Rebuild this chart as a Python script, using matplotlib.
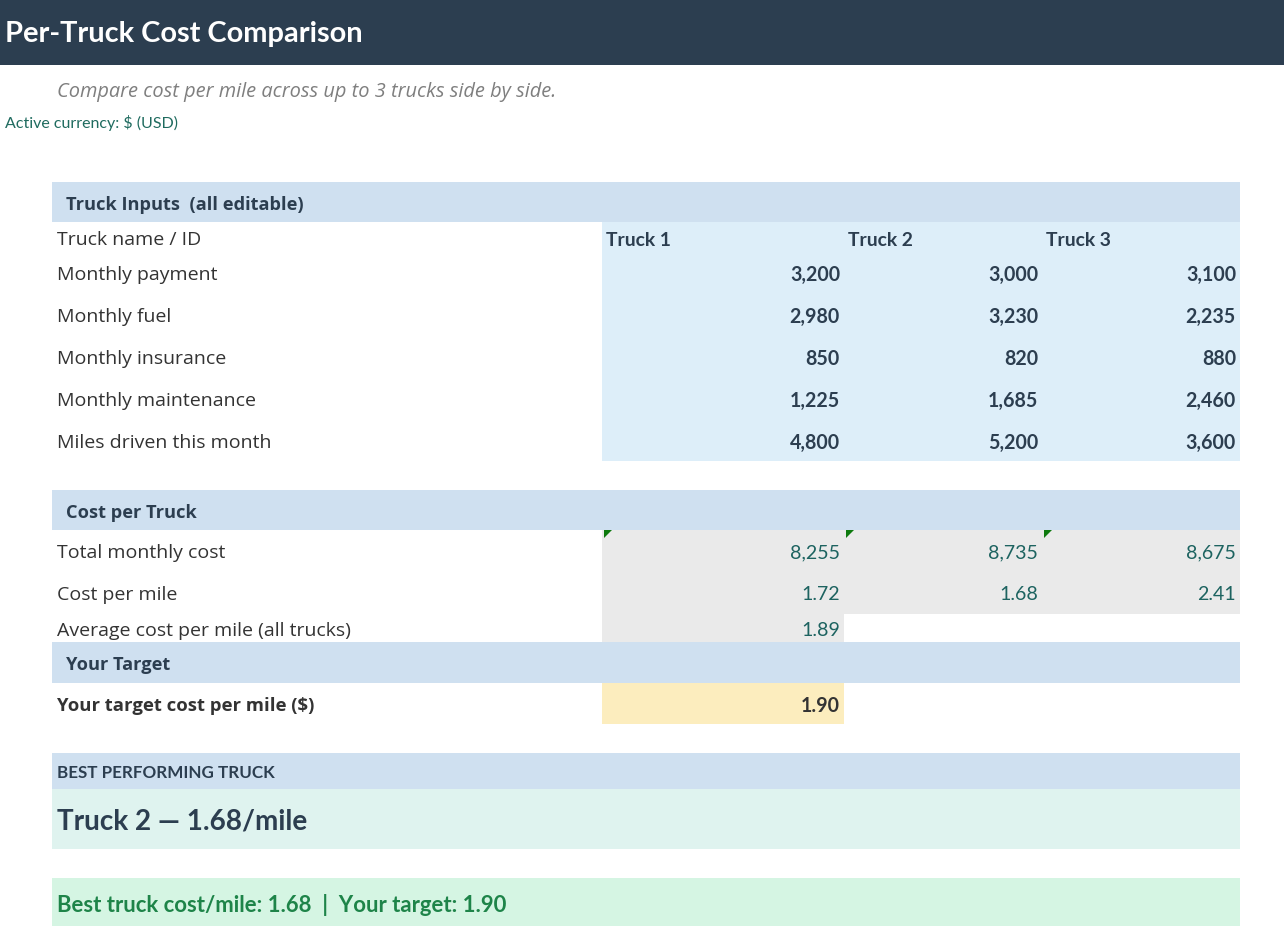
import matplotlib
matplotlib.use("Agg")
import matplotlib.pyplot as plt
from matplotlib.patches import Rectangle, Polygon

# ---------------- data ----------------
title = "Per-Truck Cost Comparison"
subtitle = "Compare cost per mile across up to 3 trucks side by side."
currency_note = "Active currency: $ (USD)"
trucks = ["Truck 1", "Truck 2", "Truck 3"]
input_labels = ["Monthly payment", "Monthly fuel", "Monthly insurance",
                "Monthly maintenance", "Miles driven this month"]
monthly_payment = [3200, 3000, 3100]
monthly_fuel = [2980, 3230, 2235]
monthly_insurance = [850, 820, 880]
monthly_maintenance = [1225, 1685, 2460]
miles_driven = [4800, 5200, 3600]
total_monthly_cost = [8255, 8735, 8675]
cost_per_mile = [1.72, 1.68, 2.41]
avg_cost_per_mile = 1.89
target_cost_per_mile = 1.90
best_truck = "Truck 2"
best_cost = 1.68

# ---------------- style ----------------
W, H = 1284, 928
DPI = 100
LBL = "Open Sans"      # label font (Segoe-like)
NUM = "Lato"           # number font (Calibri-like)
C_TITLE = "#2C3E50"
C_BAND = "#CFE0F0"
C_INPUT = "#DDEEF9"
C_GRAY = "#EAEAEA"
C_YEL = "#FCEDBE"
C_MINT = "#DFF3EF"
C_GREENBAND = "#D5F5E3"
C_GREEN = "#1E8449"
C_TEAL = "#1D6360"
C_TXT = "#333333"

def pt(px):
    return px * 72.0 / DPI

fig = plt.figure(figsize=(W / DPI, H / DPI), dpi=DPI)
ax = fig.add_axes([0, 0, 1, 1])
ax.set_xlim(0, W)
ax.set_ylim(H, 0)
ax.axis("off")

def rect(x0, y0, x1, y1, color):
    ax.add_patch(Rectangle((x0, y0), x1 - x0, y1 - y0, facecolor=color,
                           edgecolor="none", zorder=1))

def txt(x, y, s, size, color=C_TXT, weight="normal", family=LBL, ha="left",
        style="normal"):
    ax.text(x, y, s, fontsize=pt(size), color=color, fontweight=weight,
            family=family, ha=ha, va="center", style=style, zorder=3)

# title bar
rect(0, 0, W, 65.5, C_TITLE)
txt(5, 34, title, 29, color="white", weight="bold", family=NUM)
txt(57, 92, subtitle, 20, color="#7F7F7F", family=LBL, style="italic")
txt(5, 123, currency_note, 16, color="#1F6B5F", family=NUM)

L, R = 52, 1240
cols = [602, 844, 1042, 1240]
LS = 19.5  # label size

# Truck inputs section
rect(L, 183, R, 223, C_BAND)
txt(66, 205, "Truck Inputs  (all editable)", 18.3, color=C_TITLE, weight="bold")
rect(cols[0], 223, R, 462, C_INPUT)
txt(57, 240, "Truck name / ID", LS)
for i, t in enumerate(trucks):
    txt(cols[i] + 4, 240, t, 19.3, color=C_TITLE, weight="bold", family=NUM)

input_rows = [monthly_payment, monthly_fuel, monthly_insurance,
              monthly_maintenance, miles_driven]
row_y = [275, 317, 359, 401, 443]
for lab, vals, y in zip(input_labels, input_rows, row_y):
    txt(57, y, lab, LS)
    for i, v in enumerate(vals):
        txt(cols[i + 1] - 4, y, f"{v:,}", 19.6, color=C_TITLE, weight="bold",
            family=NUM, ha="right")

# Cost per truck section
rect(L, 491, R, 531, C_BAND)
txt(66, 513, "Cost per Truck", 18.3, color=C_TITLE, weight="bold")
rect(cols[0], 531, R, 615, C_GRAY)
rect(cols[0], 615, cols[1], 643, C_GRAY)
txt(57, 553, "Total monthly cost", LS)
txt(57, 595, "Cost per mile", LS)
txt(57, 631, "Average cost per mile (all trucks)", LS)
for i in range(3):
    txt(cols[i + 1] - 4, 553, f"{total_monthly_cost[i]:,}", 19.6, color=C_TEAL,
        family=NUM, ha="right")
    txt(cols[i + 1] - 4, 595, f"{cost_per_mile[i]:.2f}", 19.6, color=C_TEAL,
        family=NUM, ha="right")
    x0 = cols[i] + 2
    ax.add_patch(Polygon([(x0, 531), (x0 + 8, 531), (x0, 539)],
                         closed=True, facecolor="#0E7A0E", edgecolor="none",
                         zorder=2))
txt(cols[1] - 4, 631, f"{avg_cost_per_mile:.2f}", 19.6, color=C_TEAL,
    family=NUM, ha="right")

# Your target section
rect(L, 643, R, 684, C_BAND)
txt(66, 665, "Your Target", 18.3, color=C_TITLE, weight="bold")
rect(cols[0], 684, cols[1], 725, C_YEL)
txt(57, 706, "Your target cost per mile ($)", 18.5, weight="bold")
txt(cols[1] - 4, 706, f"{target_cost_per_mile:.2f}", 19.6, color=C_TXT,
    weight="bold", family=NUM, ha="right")

# Best performing truck
rect(L, 754, R, 790, C_BAND)
txt(57, 773, "BEST PERFORMING TRUCK", 17, color=C_TITLE, weight="bold", family=NUM)
rect(L, 790, R, 850, C_MINT)
txt(57, 822, f"{best_truck} \u2014 {best_cost:.2f}/mile", 27.9, color=C_TITLE,
    weight="bold", family=NUM)

rect(L, 879, R, 927, C_GREENBAND)
txt(57, 905, f"Best truck cost/mile: {best_cost:.2f}  |  Your target: {target_cost_per_mile:.2f}",
    22.2, color=C_GREEN, weight="bold", family=NUM)

fig.savefig("out.png", dpi=DPI)
